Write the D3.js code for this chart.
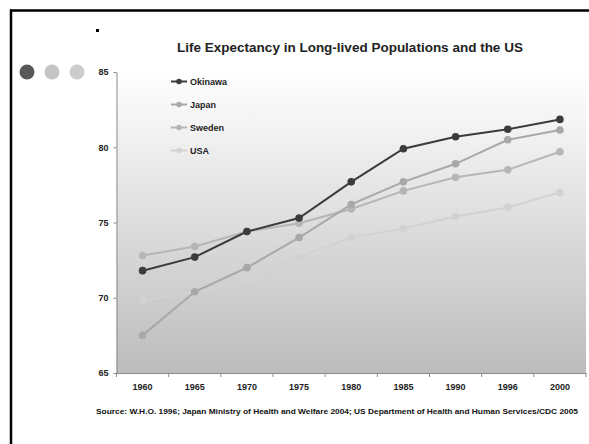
<!DOCTYPE html>
<html>
<head>
<meta charset="utf-8">
<script src="https://cdn.jsdelivr.net/npm/d3@7"></script>
<style>
  body { margin: 0; background: #fff; }
  text { font-family: Arial, "Liberation Sans", sans-serif; }
</style>
</head>
<body>
<div id="chart"></div>
<script>
"use strict";

var annees = ["1960", "1965", "1970", "1975", "1980", "1985", "1990", "1996", "2000"];
var okinawa = [71.8, 72.7, 74.4, 75.3, 77.7, 79.9, 80.7, 81.2, 81.85];
var japon = [67.5, 70.4, 72.0, 74.0, 76.2, 77.7, 78.9, 80.5, 81.15];
var suede = [72.8, 73.4, 74.4, 74.95, 75.9, 77.1, 78.0, 78.5, 79.7];
var usa = [69.8, 70.4, 71.05, 72.7, 74.0, 74.6, 75.4, 76.0, 77.0];
var graduationsY = [65, 70, 75, 80, 85];
var noms = ["Okinawa", "Japan", "Sweden", "USA"];
var couleurs = ["#3b3b3b", "#a8a8a8", "#b6b6b6", "#d2d2d2"];

var larg = 589, haut = 444;
var gauche = 116.5, droite = 586, haut_trace = 72, bas_trace = 373;

var series = [okinawa, japon, suede, usa];

var svg = d3.select("#chart").append("svg")
  .attr("width", larg).attr("height", haut);

// degrade du fond
var grad = svg.append("defs").append("linearGradient")
  .attr("id", "fond").attr("x1", 0).attr("y1", 0).attr("x2", 0).attr("y2", 1);
grad.append("stop").attr("offset", "0%").attr("stop-color", "#ffffff");
grad.append("stop").attr("offset", "100%").attr("stop-color", "#bcbcbc");

// cadre
svg.append("line").attr("x1", 10).attr("x2", larg).attr("y1", 10.5).attr("y2", 10.5)
  .attr("stroke", "#000").attr("stroke-width", 2.5);
svg.append("line").attr("x1", 11).attr("x2", 11).attr("y1", 9.5).attr("y2", haut)
  .attr("stroke", "#000").attr("stroke-width", 2.5);

// petit carre noir
svg.append("rect").attr("x", 96).attr("y", 29).attr("width", 3).attr("height", 3).attr("fill", "#000");

// pastilles
svg.selectAll("circle.deco")
  .data(["#585858", "#c4c4c4", "#cdcdcd"])
  .enter().append("circle")
  .attr("class", "deco")
  .attr("cx", function(d, i){ return 27 + i * 25; })
  .attr("cy", 72)
  .attr("r", 7.5)
  .attr("fill", function(d){ return d; });

// titre
svg.append("text")
  .attr("x", 350).attr("y", 52)
  .attr("text-anchor", "middle")
  .attr("font-size", "13.5px").attr("font-weight", "bold").attr("fill", "#222")
  .text("Life Expectancy in Long-lived Populations and the US");

var x = d3.scaleBand().domain(annees).range([gauche, droite]);
var y = d3.scaleLinear().domain([65, 85]).range([bas_trace, haut_trace]);

svg.append("rect")
  .attr("x", gauche).attr("y", haut_trace)
  .attr("width", droite - gauche).attr("height", bas_trace - haut_trace)
  .attr("fill", "url(#fond)");

// axe Y
var axeY = svg.append("g")
  .attr("transform", "translate(" + gauche + ",0)")
  .call(d3.axisLeft(y).tickValues(graduationsY).tickSize(3).tickSizeOuter(0).tickPadding(5));
axeY.select(".domain").attr("stroke", "#8a8a8a");
axeY.selectAll(".tick line").attr("stroke", "#8a8a8a");
axeY.selectAll("text").attr("font-size", "9px").attr("font-weight", "bold").attr("fill", "#222")
  .attr("font-family", "Arial, sans-serif");

// axe X
var axeX = svg.append("g")
  .attr("transform", "translate(0," + bas_trace + ")")
  .call(d3.axisBottom(x).tickSize(0).tickPadding(11).tickSizeOuter(0));
axeX.select(".domain").attr("stroke", "#8a8a8a");
axeX.selectAll("text").attr("font-size", "9px").attr("font-weight", "bold").attr("fill", "#222")
  .attr("font-family", "Arial, sans-serif");
// graduations entre les categories
svg.selectAll("line.sep")
  .data(annees.concat(["fin"]))
  .enter().append("line")
  .attr("class", "sep")
  .attr("x1", function(d, i){ return gauche + i * x.bandwidth(); })
  .attr("x2", function(d, i){ return gauche + i * x.bandwidth(); })
  .attr("y1", bas_trace).attr("y2", bas_trace + 4)
  .attr("stroke", "#8a8a8a");

var ligne = d3.line()
  .x(function(d, i){ return x(annees[i]) + x.bandwidth() / 2; })
  .y(function(d){ return y(d); });

// dessin des series, de la plus claire a la plus foncee
[3, 2, 1, 0].forEach(function(k){
  svg.append("path")
    .datum(series[k])
    .attr("d", ligne)
    .attr("fill", "none")
    .attr("stroke", couleurs[k])
    .attr("stroke-width", 2);
  svg.selectAll("circle.s" + k)
    .data(series[k])
    .enter().append("circle")
    .attr("class", "s" + k)
    .attr("cx", function(d, i){ return x(annees[i]) + x.bandwidth() / 2; })
    .attr("cy", function(d){ return y(d); })
    .attr("r", 3.8)
    .attr("fill", couleurs[k]);
});

// legende
var leg = svg.selectAll("g.legende")
  .data(noms)
  .enter().append("g")
  .attr("class", "legende")
  .attr("transform", function(d, i){ return "translate(171," + (81.5 + i * 23) + ")"; });
leg.append("line").attr("x1", 0).attr("x2", 16).attr("y1", 0).attr("y2", 0)
  .attr("stroke", function(d, i){ return couleurs[i]; }).attr("stroke-width", 2);
leg.append("circle").attr("cx", 8).attr("cy", 0).attr("r", 2.8)
  .attr("fill", function(d, i){ return couleurs[i]; });
leg.append("text").attr("x", 19).attr("y", 3.3)
  .attr("font-size", "9px").attr("font-weight", "bold").attr("fill", "#222")
  .text(function(d){ return d; });

// source
svg.append("text")
  .attr("x", 96).attr("y", 414)
  .attr("font-size", "8px").attr("font-weight", "bold").attr("fill", "#111")
  .attr("textLength", 482).attr("lengthAdjust", "spacingAndGlyphs")
  .text("Source: W.H.O. 1996; Japan Ministry of Health and Welfare 2004; US Department of Health and Human Services/CDC 2005");
</script>
</body>
</html>
